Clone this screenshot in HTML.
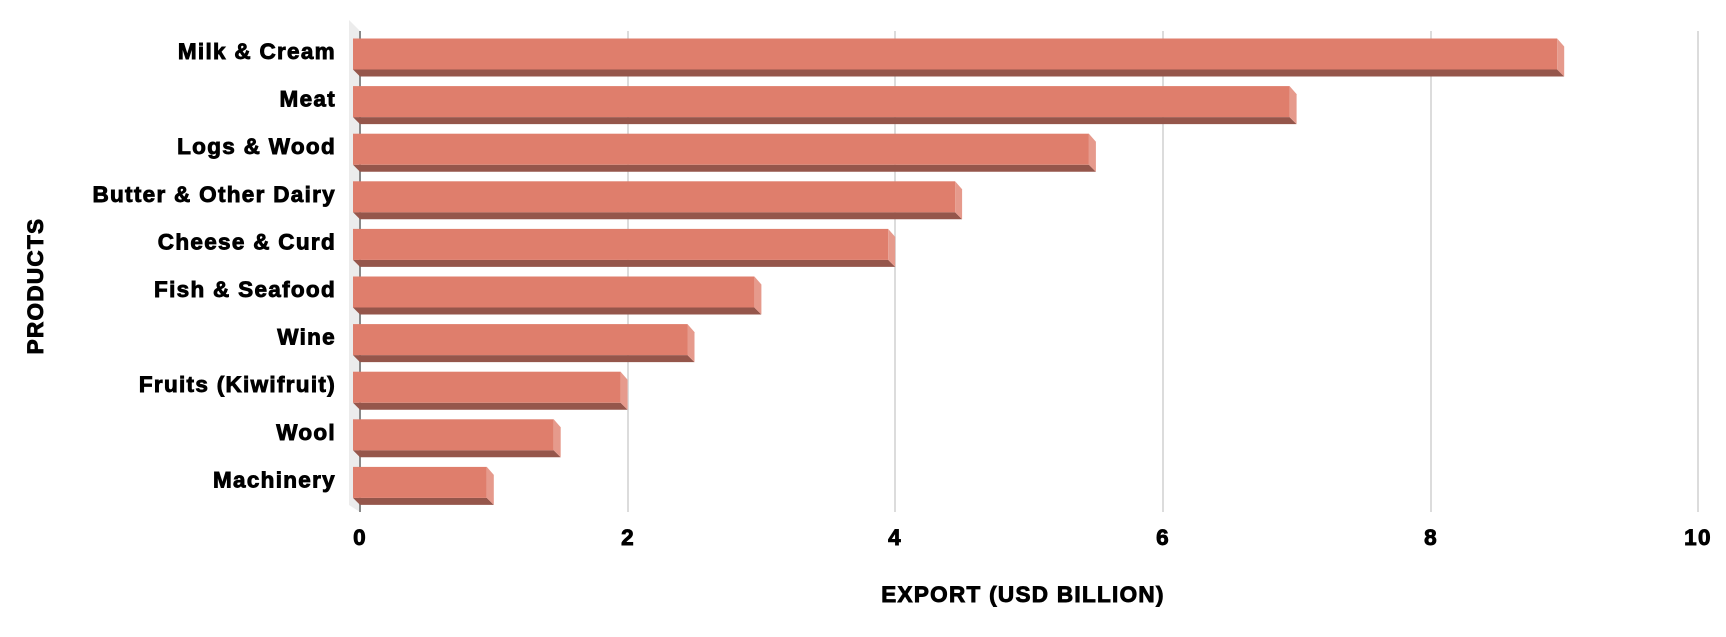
<!DOCTYPE html>
<html><head><style>body{margin:0;background:#fff}</style></head><body>
<svg width="1726" height="632" xmlns="http://www.w3.org/2000/svg" font-family="Liberation Sans, Arial, sans-serif" font-weight="bold">
<polygon points="349,20 360,31 360,512 349,505" fill="#ececec"/>
<g stroke="#dcdcdc" stroke-width="2">
<line x1="628" y1="31" x2="628" y2="512"/><line x1="895" y1="31" x2="895" y2="512"/><line x1="1163" y1="31" x2="1163" y2="512"/><line x1="1431" y1="31" x2="1431" y2="512"/><line x1="1698" y1="31" x2="1698" y2="512"/>
</g>
<line x1="360" y1="31" x2="360" y2="512" stroke="#888" stroke-width="2"/>

<g transform="translate(0,38.5)"><polygon points="353,31 1557.2,31 1564.2,38 360,38" fill="#95564b"/><rect x="353" y="0" width="1204.2" height="31" fill="#df7e6c"/><polygon points="1557.2,0 1564.2,8 1564.2,38 1557.2,31" fill="#e69a8c"/></g>
<g transform="translate(0,86.1)"><polygon points="353,31 1289.6,31 1296.6,38 360,38" fill="#95564b"/><rect x="353" y="0" width="936.6" height="31" fill="#df7e6c"/><polygon points="1289.6,0 1296.6,8 1296.6,38 1289.6,31" fill="#e69a8c"/></g>
<g transform="translate(0,133.7)"><polygon points="353,31 1088.9,31 1095.9,38 360,38" fill="#95564b"/><rect x="353" y="0" width="735.9" height="31" fill="#df7e6c"/><polygon points="1088.9,0 1095.9,8 1095.9,38 1088.9,31" fill="#e69a8c"/></g>
<g transform="translate(0,181.3)"><polygon points="353,31 955.1,31 962.1,38 360,38" fill="#95564b"/><rect x="353" y="0" width="602.1" height="31" fill="#df7e6c"/><polygon points="955.1,0 962.1,8 962.1,38 955.1,31" fill="#e69a8c"/></g>
<g transform="translate(0,228.9)"><polygon points="353,31 888.2,31 895.2,38 360,38" fill="#95564b"/><rect x="353" y="0" width="535.2" height="31" fill="#df7e6c"/><polygon points="888.2,0 895.2,8 895.2,38 888.2,31" fill="#e69a8c"/></g>
<g transform="translate(0,276.5)"><polygon points="353,31 754.4,31 761.4,38 360,38" fill="#95564b"/><rect x="353" y="0" width="401.4" height="31" fill="#df7e6c"/><polygon points="754.4,0 761.4,8 761.4,38 754.4,31" fill="#e69a8c"/></g>
<g transform="translate(0,324.1)"><polygon points="353,31 687.5,31 694.5,38 360,38" fill="#95564b"/><rect x="353" y="0" width="334.5" height="31" fill="#df7e6c"/><polygon points="687.5,0 694.5,8 694.5,38 687.5,31" fill="#e69a8c"/></g>
<g transform="translate(0,371.7)"><polygon points="353,31 620.6,31 627.6,38 360,38" fill="#95564b"/><rect x="353" y="0" width="267.6" height="31" fill="#df7e6c"/><polygon points="620.6,0 627.6,8 627.6,38 620.6,31" fill="#e69a8c"/></g>
<g transform="translate(0,419.3)"><polygon points="353,31 553.7,31 560.7,38 360,38" fill="#95564b"/><rect x="353" y="0" width="200.7" height="31" fill="#df7e6c"/><polygon points="553.7,0 560.7,8 560.7,38 553.7,31" fill="#e69a8c"/></g>
<g transform="translate(0,466.9)"><polygon points="353,31 486.8,31 493.8,38 360,38" fill="#95564b"/><rect x="353" y="0" width="133.8" height="31" fill="#df7e6c"/><polygon points="486.8,0 493.8,8 493.8,38 486.8,31" fill="#e69a8c"/></g>

<g font-size="22.5" text-anchor="end" fill="#000" stroke="#000" stroke-width="0.9" letter-spacing="1.3">
<text x="336" y="59">Milk &amp; Cream</text>
<text x="336" y="106.6">Meat</text>
<text x="336" y="154.2">Logs &amp; Wood</text>
<text x="336" y="201.8">Butter &amp; Other Dairy</text>
<text x="336" y="249.4">Cheese &amp; Curd</text>
<text x="336" y="297">Fish &amp; Seafood</text>
<text x="336" y="344.6">Wine</text>
<text x="336" y="392.2">Fruits (Kiwifruit)</text>
<text x="336" y="439.8">Wool</text>
<text x="336" y="487.4">Machinery</text>
</g>
<g font-size="22.5" text-anchor="middle" stroke="#000" stroke-width="0.9" letter-spacing="1.3">
<text x="360" y="545">0</text><text x="628" y="545">2</text><text x="895" y="545">4</text><text x="1163" y="545">6</text><text x="1431" y="545">8</text><text x="1698" y="545">10</text>
<text x="1023" y="602">EXPORT (USD BILLION)</text>
<text transform="translate(43,286) rotate(-90)">PRODUCTS</text>
</g>
</svg>
</body></html>
